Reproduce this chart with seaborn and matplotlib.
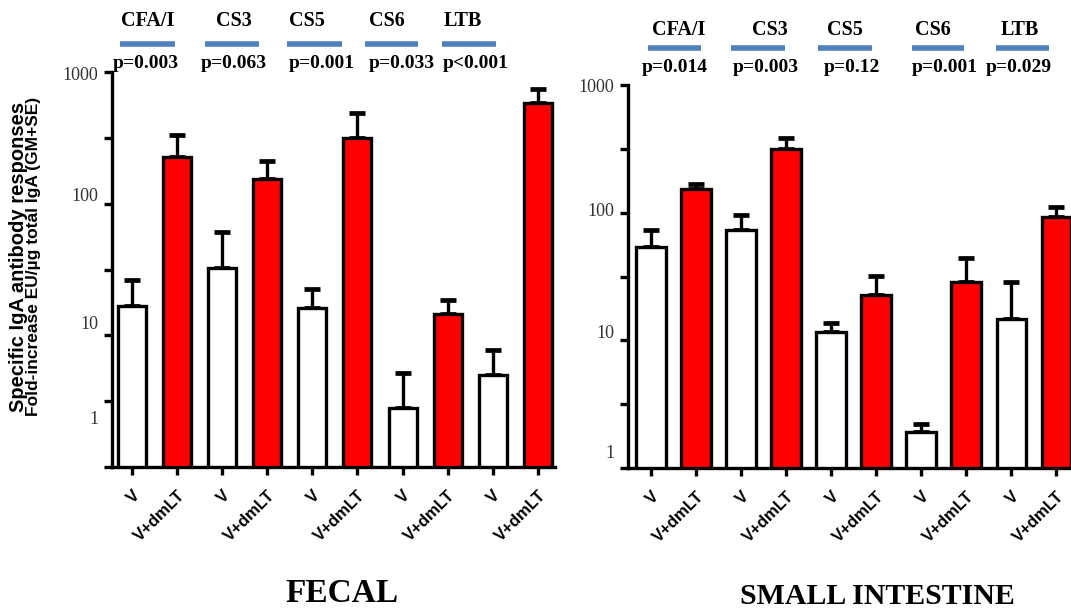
import matplotlib
matplotlib.use("Agg")
import matplotlib.pyplot as plt
import matplotlib.transforms as mtransforms
from matplotlib.ticker import FixedLocator, NullFormatter
import pandas as pd
import seaborn as sns

# 데이터 (그림에서 읽은 값, 로그 축)
antigens = ["CFA/I", "CS3", "CS5", "CS6", "LTB"]
groups = ["V", "V+dmLT"]

fecal_v = [16.7, 32.7, 16.2, 2.8, 5.0]
fecal_v_upper = [26.5, 61, 22.4, 5.2, 7.8]
fecal_dmlt = [226, 153, 315, 14.4, 582]
fecal_dmlt_upper = [330, 210, 491, 18.5, 747]
fecal_p = ["p=0.003", "p=0.063", "p=0.001", "p=0.033", "p<0.001"]

si_v = [54, 73, 11.7, 1.93, 14.6]
si_v_upper = [73, 96, 13.7, 2.2, 28.8]
si_dmlt = [152, 313, 22.6, 28.8, 92]
si_dmlt_upper = [168, 382, 31.9, 43.9, 111]
si_p = ["p=0.014", "p=0.003", "p=0.12", "p=0.001", "p=0.029"]

W, H = 1071, 610
sns.set_style("ticks")
plt.rcParams["font.family"] = ["Liberation Sans", "DejaVu Sans"]
plt.rcParams["text.color"] = "black"
plt.rcParams["xtick.color"] = "black"
plt.rcParams["ytick.color"] = "black"

fig = plt.figure(figsize=(W / 100, H / 100), dpi=100)


def px(x, y):
    return x / W, 1 - y / H


def make_df(v, v_up, d, d_up):
    rows = []
    for i, a in enumerate(antigens):
        rows.append({"bar": a + " V", "group": "V", "value": v[i], "upper": v_up[i]})
        rows.append({"bar": a + " V+dmLT", "group": "V+dmLT", "value": d[i], "upper": d_up[i]})
    return pd.DataFrame(rows)


def draw_panel(ax, df, width, xlim, label_dy):
    sns.barplot(data=df, x="bar", y="value", hue="group",
                palette={"V": "white", "V+dmLT": "#ff0000"}, saturation=1,
                dodge=False, width=width, edgecolor="black", linewidth=2.4,
                errorbar=None, legend=False, ax=ax, zorder=2)
    pos = list(range(len(df)))
    ax.errorbar(pos, df["value"], yerr=[[0] * len(df), df["upper"] - df["value"]],
                fmt="none", ecolor="black", elinewidth=2.4, capsize=6, capthick=3.4,
                zorder=1)
    ax.set_yscale("log")
    ax.set_ylim(1, 1000)
    ax.set_xlim(*xlim)
    sns.despine(ax=ax)
    for s in ["left", "bottom"]:
        ax.spines[s].set_linewidth(2.4)
        ax.spines[s].set_color("black")
    ax.set_yticks([1, 10, 100, 1000])
    ax.set_yticklabels(["1", "10", "100", "1000"], family="Liberation Serif",
                       fontsize=13, color="#333333")
    ax.yaxis.set_minor_locator(FixedLocator([10 ** 0.5, 10 ** 1.5, 10 ** 2.5]))
    ax.yaxis.set_minor_formatter(NullFormatter())
    ax.set_xticks(pos)
    ax.set_xticklabels(["V", "V+dmLT"] * 5, rotation=45, ha="right",
                       rotation_mode="anchor", fontweight="bold", fontsize=12)
    ax.tick_params(axis="both", which="both", length=6, width=2.4, color="black")
    ax.tick_params(axis="x", pad=9)
    ax.tick_params(axis="y", pad=4)
    ax.set_xlabel("")
    ax.set_ylabel("")
    # 원본 그림처럼 y 라벨을 약간씩 위로 이동
    for lab, dy in zip(ax.get_yticklabels(), label_dy):
        lab.set_transform(lab.get_transform() +
                          mtransforms.ScaledTranslation(0, dy / 100, fig.dpi_scale_trans))


# 왼쪽: FECAL
ax1 = fig.add_axes([112 / W, 1 - 467 / H, 443 / W, 395 / H])
draw_panel(ax1, make_df(fecal_v, fecal_v_upper, fecal_dmlt, fecal_dmlt_upper),
           0.62, (-0.44, 9.38), [49, 13, 9, -2])

# 오른쪽: SMALL INTESTINE
ax2 = fig.add_axes([628 / W, 1 - 468 / H, 451 / W, 383 / H])
draw_panel(ax2, make_df(si_v, si_v_upper, si_dmlt, si_dmlt_upper),
           0.66, (-0.51, 9.5), [17, 9, 3, 0])

# 상단 항원 이름 / 파란 선 / p 값
blue = "#4f81bd"
left_head = [148, 234, 307, 387, 463]
left_line = [(120, 175), (205, 259), (287, 342), (365, 418), (442, 496)]
left_pcx = [146, 234, 322, 402, 476]
right_head = [679, 770, 845, 933, 1020]
right_line = [(648, 701), (731, 785), (818, 872), (912, 964), (996, 1049)]
right_pcx = [675, 766, 852, 945, 1019]

for heads, lines, pcx, pvals, ys in [
    (left_head, left_line, left_pcx, fecal_p, (21, 44, 64)),
    (right_head, right_line, right_pcx, si_p, (30, 48, 68)),
]:
    for hx, (x0, x1), xp, name, p in zip(heads, lines, pcx, antigens, pvals):
        fig.text(*px(hx, ys[0]), name, ha="center", va="center",
                 family="Liberation Serif", fontweight="bold", fontsize=14.5)
        fig.add_artist(plt.Line2D([x0 / W, x1 / W], [1 - ys[1] / H] * 2,
                                  color=blue, lw=4, solid_capstyle="butt",
                                  transform=fig.transFigure))
        fig.text(*px(xp, ys[2]), p, ha="center", va="center",
                 family="Liberation Serif", fontweight="bold", fontsize=14)

# y축 제목 (두 줄)
fig.text(*px(19, 257), "Specific IgA antibody responses", rotation=90,
         ha="center", va="center", fontweight="bold", fontsize=14.5)
fig.text(*px(34, 256), "Fold-increase EU/\u00b5g total IgA (GM+SE)", rotation=90,
         ha="center", va="center", fontweight="bold", fontsize=12.5)

# 하단 패널 제목
fig.text(*px(342, 593), "FECAL", ha="center", va="center",
         family="Liberation Serif", fontweight="bold", fontsize=24)
fig.text(*px(877, 597), "SMALL INTESTINE", ha="center", va="center",
         family="Liberation Serif", fontweight="bold", fontsize=21.5)

fig.savefig("out.png", dpi=100, facecolor="white")
